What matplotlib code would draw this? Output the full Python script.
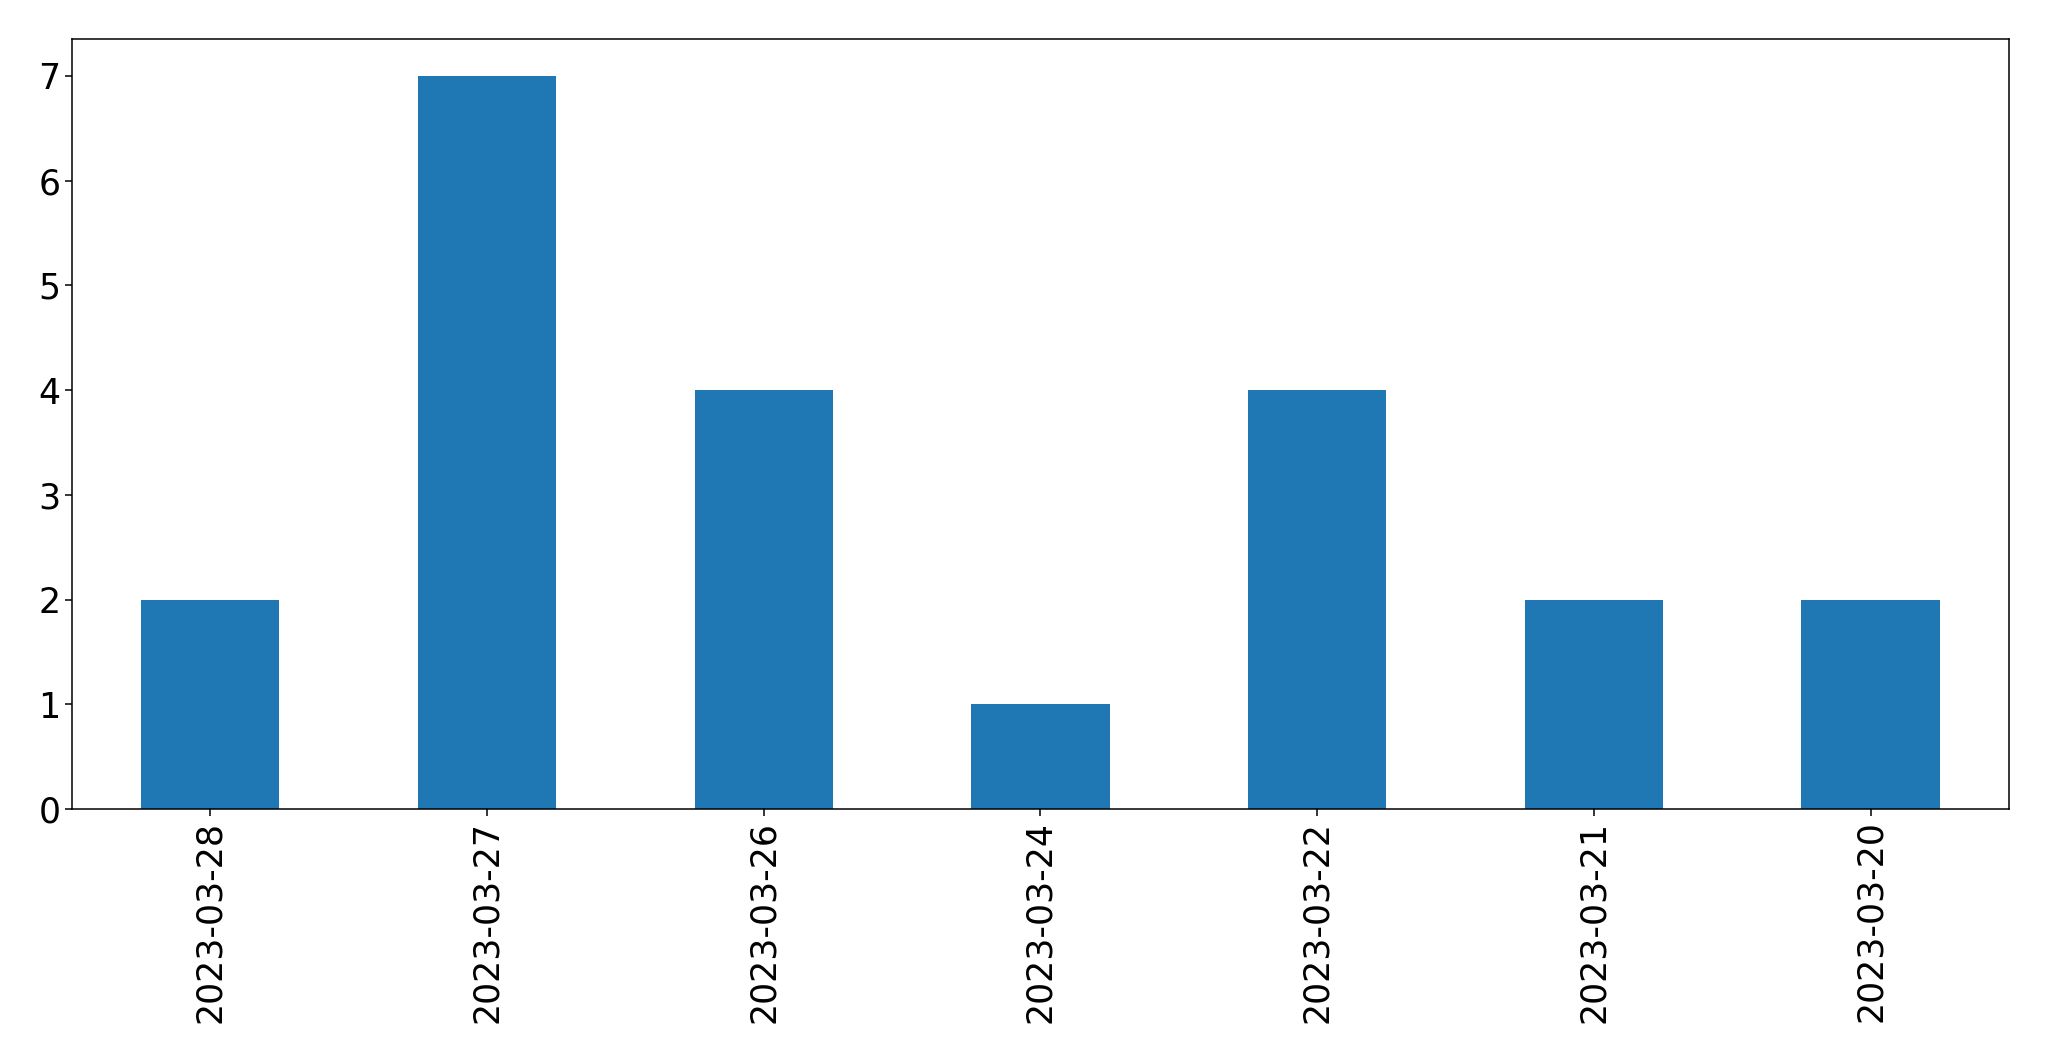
import matplotlib
matplotlib.use("Agg")
import matplotlib.pyplot as plt
import pandas as pd

dates = ["2023-03-28", "2023-03-27", "2023-03-26", "2023-03-24",
         "2023-03-22", "2023-03-21", "2023-03-20"]
counts = [2, 7, 4, 1, 4, 2, 2]

s = pd.Series(counts, index=dates)

fig = plt.figure(figsize=(20.49, 10.61), dpi=100)
ax = fig.add_axes([0.0351, 0.2375, 0.9454, 0.7255])
s.plot(kind="bar", ax=ax, color="#1f77b4")

ax.tick_params(labelsize=25, length=4.8, width=1.1)
for sp in ax.spines.values():
    sp.set_linewidth(1.1)

fig.savefig("out.png", dpi=100)
